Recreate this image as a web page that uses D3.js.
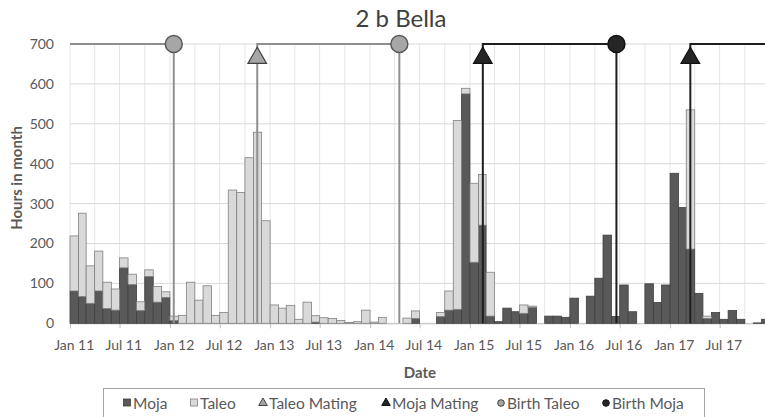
<!DOCTYPE html>
<html>
<head>
<meta charset="utf-8">
<script src="https://cdn.jsdelivr.net/npm/d3@7"></script>
<style>
  body { margin: 0; background: #fff; }
  svg { display: block; font-family: Lato, "Liberation Sans", sans-serif; }
</style>
</head>
<body>
<div id="chart"></div>
<script>
// monthly hours, Jan 2011 .. Dec 2017
const firstMonth = "2011-01";
const mojaHours = [
  81, 67, 50, 81, 37, 33, 139, 97, 32, 117, 53, 65,
  7, 0, 0, 0, 0, 0, 0, 0, 0, 0, 0, 0,
  0, 0, 0, 0, 0, 3, 0, 0, 0, 0, 0, 0,
  0, 0, 0, 0, 0, 12, 0, 0, 17, 33, 35, 575,
  153, 246, 18, 4, 38, 29, 25, 40, 0, 18, 18, 15,
  63, 0, 68, 113, 221, 17, 96, 29, 0, 99, 52, 96,
  376, 290, 186, 75, 12, 27, 10, 32, 10, 0, 1, 10
];
const taleoHours = [
  138, 209, 94, 100, 66, 53, 25, 26, 22, 17, 39, 14,
  11, 20, 103, 58, 94, 20, 27, 334, 328, 415, 479, 257,
  46, 38, 45, 10, 53, 16, 14, 12, 7, 2, 4, 33,
  3, 15, 0, 0, 13, 19, 0, 0, 10, 48, 473, 14,
  198, 127, 110, 0, 0, 0, 21, 3, 0, 0, 0, 0,
  0, 0, 0, 0, 0, 0, 0, 0, 0, 0, 0, 0,
  0, 0, 349, 0, 6, 0, 0, 0, 0, 0, 0, 0
];

const eventDates = ["2012-01-15", "2012-11-15", "2014-04-18", "2015-02-17", "2016-06-19", "2017-03-16"];
const eventTypes = ["Birth Taleo", "Taleo Mating", "Birth Taleo", "Moja Mating", "Birth Moja", "Moja Mating"];
const pregnancyLevel = 700;
const matingMarkerLevel = 665;

const yTicks = [0, 100, 200, 300, 400, 500, 600, 700];
const legendLabels = ["Moja", "Taleo", "Taleo Mating", "Moja Mating", "Birth Taleo", "Birth Moja"];

const width = 765, height = 417;
const parseMonth = d3.timeParse("%Y-%m");
const parseDay = d3.timeParse("%Y-%m-%d");
const start = parseMonth(firstMonth);
const months = mojaHours.map((_, i) => d3.timeMonth.offset(start, i));
const end = d3.timeMonth.offset(start, mojaHours.length);

const x = d3.scaleTime().domain([start, end]).range([70, 770]);
const y = d3.scaleLinear().domain([0, 700]).range([323.3, 44]);

const grey = "#595959";
const animalColor = { Taleo: "#8f8f8f", Moja: "#1e1e1e" };
const markerFill = { Taleo: "#a6a6a6", Moja: "#262626" };

const svg = d3.select("#chart").append("svg")
  .attr("width", width).attr("height", height);

svg.append("rect").attr("width", width).attr("height", height).attr("fill", "#fff");

// gridlines
const quarters = d3.timeMonth.every(3).range(start, end);
svg.append("g").selectAll("line").data(quarters).join("line")
  .attr("x1", d => x(d)).attr("x2", d => x(d))
  .attr("y1", y(700)).attr("y2", y(0))
  .attr("stroke", "#e6e6e6").attr("stroke-width", 1);

svg.append("g").selectAll("line").data(yTicks).join("line")
  .attr("x1", 70).attr("x2", 770)
  .attr("y1", d => y(d)).attr("y2", d => y(d))
  .attr("stroke", "#d9d9d9").attr("stroke-width", 1);

// y axis labels
const yAxis = svg.append("g")
  .attr("transform", "translate(58,0)")
  .call(d3.axisLeft(y).tickValues(yTicks).tickSize(0).tickPadding(4));
yAxis.select(".domain").remove();
yAxis.selectAll("text").attr("fill", grey).attr("font-size", 14)
  .attr("font-family", "Lato, sans-serif");

// x axis
const halfYears = d3.timeMonth.every(6).range(start, end);
const xAxis = svg.append("g")
  .attr("transform", `translate(0,${y(0)})`)
  .call(d3.axisBottom(x).tickValues(halfYears).tickSize(5).tickFormat(""));
xAxis.select(".domain").attr("stroke", "#bfbfbf");
xAxis.selectAll(".tick line").attr("stroke", "#bfbfbf");

svg.append("g").selectAll("text").data(halfYears).join("text")
  .attr("x", d => (x(d) + x(d3.timeMonth.offset(d, 1))) / 2)
  .attr("y", 350)
  .attr("text-anchor", "middle")
  .attr("fill", grey).attr("font-size", 14)
  .text(d3.timeFormat("%b %y"));

// stacked bars
const rows = months.map((m, i) => ({ month: m, Moja: mojaHours[i], Taleo: taleoHours[i] }));
const stack = d3.stack().keys(["Moja", "Taleo"])(rows);
const barFill = { Moja: "#595959", Taleo: "#d9d9d9" };
const barStroke = { Moja: "#3f3f3f", Taleo: "#808080" };

svg.append("g").selectAll("g").data(stack).join("g")
  .attr("fill", s => barFill[s.key])
  .attr("stroke", s => barStroke[s.key])
  .attr("stroke-width", 0.8)
  .selectAll("rect")
  .data(s => s.filter(d => d[1] - d[0] > 0))
  .join("rect")
  .attr("x", d => x(d.data.month))
  .attr("width", d => x(d3.timeMonth.offset(d.data.month, 1)) - x(d.data.month))
  .attr("y", d => y(d[1]))
  .attr("height", d => y(d[0]) - y(d[1]));

// events
const events = eventDates.map((d, i) => {
  const type = eventTypes[i];
  return { date: parseDay(d), type, animal: type.includes("Taleo") ? "Taleo" : "Moja", birth: type.startsWith("Birth") };
});

// pregnancy spans at the top
const spans = [];
events.forEach((e, i) => {
  if (e.birth) {
    const prev = events.slice(0, i).reverse().find(p => !p.birth && p.animal === e.animal);
    spans.push({ from: prev ? prev.date : start, to: e.date, animal: e.animal });
  } else {
    const next = events.slice(i + 1).find(n => n.birth && n.animal === e.animal);
    if (!next) spans.push({ from: e.date, to: end, animal: e.animal });
  }
});

svg.append("g").selectAll("line").data(spans).join("line")
  .attr("x1", d => x(d.from)).attr("x2", d => x(d.to))
  .attr("y1", y(pregnancyLevel)).attr("y2", y(pregnancyLevel))
  .attr("stroke", d => animalColor[d.animal]).attr("stroke-width", 2);

svg.append("g").selectAll("line").data(events).join("line")
  .attr("x1", d => x(d.date)).attr("x2", d => x(d.date))
  .attr("y1", y(0)).attr("y2", y(pregnancyLevel) - 1)
  .attr("stroke", d => animalColor[d.animal]).attr("stroke-width", 2);

const tri = d3.symbol().type(d3.symbolTriangle).size(150);
svg.append("g").selectAll("path").data(events.filter(e => !e.birth)).join("path")
  .attr("d", tri)
  .attr("transform", d => `translate(${x(d.date)},${y(matingMarkerLevel)})`)
  .attr("fill", d => markerFill[d.animal])
  .attr("stroke", d => d.animal === "Taleo" ? "#404040" : "#111")
  .attr("stroke-width", 1.2);

svg.append("g").selectAll("circle").data(events.filter(e => e.birth)).join("circle")
  .attr("cx", d => x(d.date)).attr("cy", y(pregnancyLevel))
  .attr("r", 8.5)
  .attr("fill", d => markerFill[d.animal])
  .attr("stroke", d => d.animal === "Taleo" ? "#595959" : "#111")
  .attr("stroke-width", 1.5);

// titles
svg.append("text").attr("x", 401).attr("y", 27).attr("text-anchor", "middle")
  .attr("font-size", 24).attr("fill", "#404040").text("2 b Bella");

svg.append("text").attr("x", 420).attr("y", 378).attr("text-anchor", "middle")
  .attr("font-size", 15).attr("font-weight", "bold").attr("fill", grey).text("Date");

svg.append("text")
  .attr("transform", "translate(22,178) rotate(-90)")
  .attr("text-anchor", "middle")
  .attr("font-size", 15).attr("font-weight", "bold").attr("fill", grey).text("Hours in month");

// legend
svg.append("rect").attr("x", 103.5).attr("y", 388.5).attr("width", 601).attr("height", 40)
  .attr("fill", "#fff").attr("stroke", "#a6a6a6");

const legendX = [123, 190, 259, 382, 497, 602];
const legend = svg.append("g").selectAll("g").data(legendLabels).join("g")
  .attr("transform", (d, i) => `translate(${legendX[i]},403)`);

legend.each(function (label) {
  const g = d3.select(this);
  if (label === "Moja" || label === "Taleo") {
    g.append("rect").attr("x", 0.5).attr("y", -4).attr("width", 7).attr("height", 7)
      .attr("fill", barFill[label]).attr("stroke", barStroke[label]).attr("stroke-width", 0.8);
  } else if (label.endsWith("Mating")) {
    const animal = label.startsWith("Taleo") ? "Taleo" : "Moja";
    g.append("path").attr("d", d3.symbol().type(d3.symbolTriangle).size(32))
      .attr("transform", "translate(4,0)")
      .attr("fill", markerFill[animal]).attr("stroke", animal === "Taleo" ? "#404040" : "#111");
  } else {
    const animal = label.endsWith("Taleo") ? "Taleo" : "Moja";
    g.append("circle").attr("cx", 4).attr("cy", 0).attr("r", 3.3)
      .attr("fill", markerFill[animal]).attr("stroke", animal === "Taleo" ? "#404040" : "#111");
  }
  g.append("text").attr("x", 10).attr("y", 5.5).attr("font-size", 15.5).attr("fill", grey).text(label);
});
</script>
</body>
</html>
